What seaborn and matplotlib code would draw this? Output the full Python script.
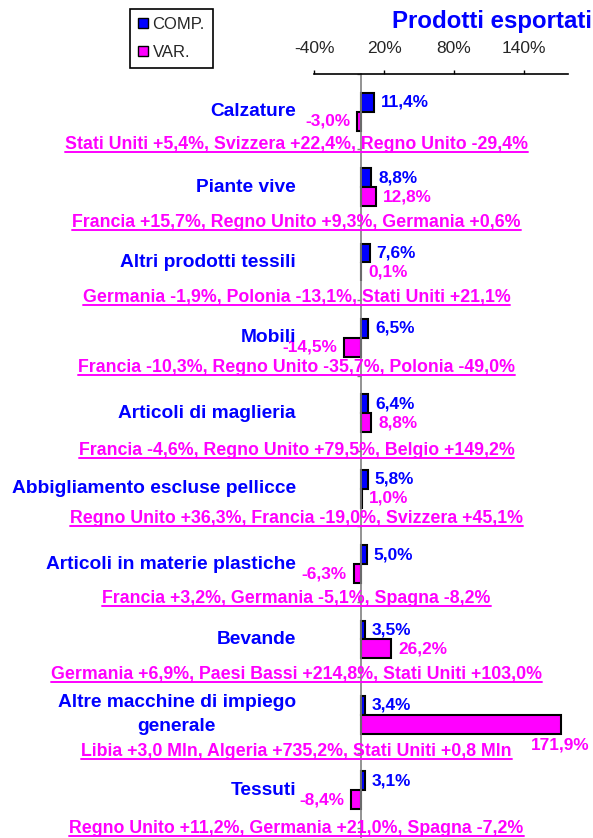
import matplotlib
matplotlib.use("Agg")
import matplotlib.pyplot as plt
import matplotlib.transforms as mtransforms
from matplotlib.patches import Patch
from matplotlib.lines import Line2D
import seaborn as sns
import pandas as pd

# ---------------- data ----------------
categories = [
    "Calzature",
    "Piante vive",
    "Altri prodotti tessili",
    "Mobili",
    "Articoli di maglieria",
    "Abbigliamento escluse pellicce",
    "Articoli in materie plastiche",
    "Bevande",
    "Altre macchine di impiego\ngenerale",
    "Tessuti",
]
comp = [11.4, 8.8, 7.6, 6.5, 6.4, 5.8, 5.0, 3.5, 3.4, 3.1]
var = [-3.0, 12.8, 0.1, -14.5, 8.8, 1.0, -6.3, 26.2, 171.9, -8.4]
sublabels = [
    "Stati Uniti +5,4%, Svizzera +22,4%, Regno Unito -29,4%",
    "Francia +15,7%, Regno Unito +9,3%, Germania +0,6%",
    "Germania -1,9%, Polonia -13,1%, Stati Uniti +21,1%",
    "Francia -10,3%, Regno Unito -35,7%, Polonia -49,0%",
    "Francia -4,6%, Regno Unito +79,5%, Belgio +149,2%",
    "Regno Unito +36,3%, Francia -19,0%, Svizzera +45,1%",
    "Francia +3,2%, Germania -5,1%, Spagna -8,2%",
    "Germania +6,9%, Paesi Bassi +214,8%, Stati Uniti +103,0%",
    "Libia +3,0 Mln, Algeria +735,2%, Stati Uniti +0,8 Mln",
    "Regno Unito +11,2%, Germania +21,0%, Spagna -7,2%",
]
series_names = ["COMP.", "VAR."]
tick_values = [-40, 20, 80, 140]
tick_labels = ["-40%", "20%", "80%", "140%"]
title = "Prodotti esportati"

# layout: vertical offset of each sublabel below its category (in category units)
sub_offsets = [0.43, 0.47, 0.47, 0.39, 0.49, 0.39, 0.45, 0.47, 0.49, 0.51]

# ---------------- style ----------------
sns.set_style("white")
plt.rcParams["font.family"] = ["Liberation Sans", "DejaVu Sans"]

BLUE = "#0000FF"
MAGENTA = "#FF00FF"

W, H = 593, 838
fig = plt.figure(figsize=(W / 100, H / 100), dpi=100)
ax = fig.add_axes([314.3 / W, 0.0, 254.0 / W, 1 - 74.0 / H])

df = pd.DataFrame({
    "categoria": categories * 2,
    "valore": comp + var,
    "serie": [series_names[0]] * len(categories) + [series_names[1]] * len(categories),
})

sns.barplot(data=df, x="valore", y="categoria", hue="serie", orient="h",
            order=categories, hue_order=series_names,
            palette=[BLUE, MAGENTA], saturation=1, width=0.5, edgecolor="black",
            linewidth=1.5, errorbar=None, legend=False, ax=ax)

ax.set_xlim(-40, 178)
ax.set_ylim(9.633, -0.486)
ax.set_xlabel("")
ax.set_ylabel("")

# top axis
ax.xaxis.tick_top()
ax.set_xticks(tick_values)
ax.set_xticklabels(tick_labels, fontsize=12.5)
ax.tick_params(axis="x", direction="out", length=3, width=1, color="black", pad=10)

# category axis at zero
ax.spines["left"].set_position(("data", 0))
ax.spines["left"].set_color("#808080")
ax.spines["left"].set_linewidth(1.2)
ax.spines["right"].set_visible(False)
ax.spines["bottom"].set_visible(False)
ax.spines["top"].set_color("black")
ax.spines["top"].set_linewidth(1.2)
ax.set_yticks([i + 0.5 for i in range(-1, len(categories))])
ax.set_yticklabels([])
ax.tick_params(axis="y", direction="out", length=3, width=1, color="#808080", left=True)

def fmt(v):
    return f"{v:.1f}%".replace(".", ",")

fig_x_data_y = mtransforms.blended_transform_factory(fig.transFigure, ax.transData)

# value labels
for i, v in enumerate(comp):
    ax.annotate(fmt(v), xy=(max(v, 0), i - 0.125), xytext=(5, 0), textcoords="offset points",
                ha="left", va="center", color=BLUE, fontsize=12.4, fontweight="bold")
for i, v in enumerate(var):
    if v > 0.8 * 178:
        ax.text(590 / W, i + 0.125 + 0.28, fmt(v), transform=fig_x_data_y,
                ha="right", va="center", color=MAGENTA, fontsize=12.4, fontweight="bold")
    elif v >= 0:
        ax.annotate(fmt(v), xy=(v, i + 0.125), xytext=(5, 0), textcoords="offset points",
                    ha="left", va="center", color=MAGENTA, fontsize=12.4, fontweight="bold")
    else:
        ax.annotate(fmt(v), xy=(v, i + 0.125), xytext=(-5, 0), textcoords="offset points",
                    ha="right", va="center", color=MAGENTA, fontsize=12.4, fontweight="bold")

# category labels and sublabels
sub_texts = []
for i, (c, s) in enumerate(zip(categories, sublabels)):
    ax.text(296 / W, i, c, transform=fig_x_data_y, ha="right", va="center",
            multialignment="center", linespacing=1.55,
            color=BLUE, fontsize=13.8, fontweight="bold")
    t = ax.text(296.5 / W, i + sub_offsets[i], s, transform=fig_x_data_y, ha="center",
                va="center", color=MAGENTA, fontsize=12.8, fontweight="bold")
    sub_texts.append(t)

# title
fig.text(592 / W, 1 - 28 / H, title, ha="right", va="baseline", color=BLUE,
         fontsize=17.3, fontweight="bold")

# legend
handles = [Patch(facecolor=BLUE, edgecolor="black", linewidth=1),
           Patch(facecolor=MAGENTA, edgecolor="black", linewidth=1)]
leg = fig.legend(handles, series_names, loc="upper left",
                 bbox_to_anchor=(130 / W, 1 - 9 / H), frameon=True, fancybox=False,
                 edgecolor="black", framealpha=1, fontsize=12,
                 handlelength=0.55, handleheight=0.55, handletextpad=0.3,
                 labelspacing=0.75, borderpad=0.5, borderaxespad=0)
leg.get_frame().set_linewidth(1.2)

# underline sublabels
fig.canvas.draw()
renderer = fig.canvas.get_renderer()
inv = fig.transFigure.inverted()
for t in sub_texts:
    bb = t.get_window_extent(renderer)
    (x0, y0), (x1, _) = inv.transform([(bb.x0, bb.y0 + 1), (bb.x1, bb.y0 + 1)])
    fig.add_artist(Line2D([x0, x1], [y0, y0], transform=fig.transFigure,
                          color=MAGENTA, linewidth=1.4))

fig.savefig("out.png", dpi=100)
